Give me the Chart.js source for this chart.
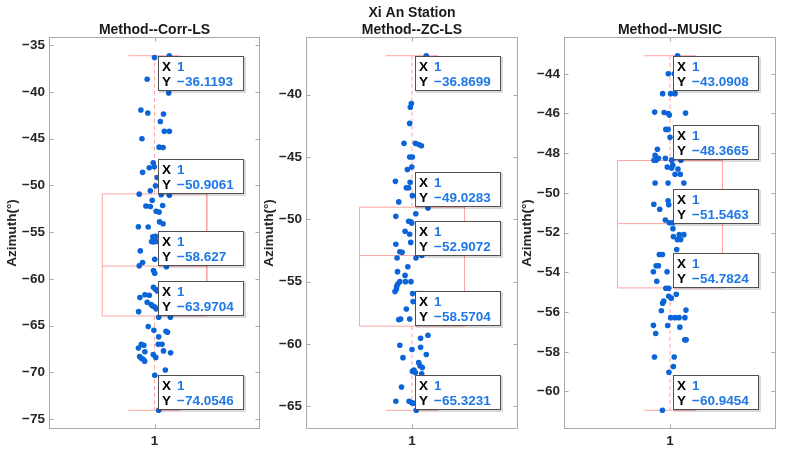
<!DOCTYPE html>
<html>
<head>
<meta charset="utf-8">
<script src="https://cdn.jsdelivr.net/npm/chart.js@4.4.1/dist/chart.umd.min.js"></script>
<style>
html, body { margin: 0; padding: 0; background: #fff; }
#fig { position: relative; width: 785px; height: 452px; overflow: hidden; }
#fig canvas { position: absolute; top: 0; }
</style>
</head>
<body>
<div id="fig">
  <canvas id="c1"></canvas>
  <canvas id="c2"></canvas>
  <canvas id="c3"></canvas>
</div>
<script>
// box stats per method: [upper whisker, Q3, median, Q1, lower whisker]
const CORR_STATS = [-36.1193, -50.9061, -58.627, -63.9704, -74.0546];
const ZC_STATS = [-36.8699, -49.0283, -52.9072, -58.5704, -65.3231];
const MUSIC_STATS = [-43.0908, -48.3665, -51.5463, -54.7824, -60.9454];

// azimuth samples and their horizontal jitter around x = 1
const CORR_Y = [-36.1193, -36.32, -38.64, -40.1, -41.93, -42.25, -42.36, -43.15, -44.2, -44.2,
  -45.0, -45.9, -45.95, -47.57, -48.1, -48.0, -48.6, -49.15, -50.04, -50.57,
  -50.93, -51.0, -51.05, -51.58, -52.2, -52.25, -52.15, -52.76, -52.85, -53.9,
  -54.1, -54.42, -54.45, -55.5, -55.45, -56.0, -56.05, -56.0, -56.4, -57.0,
  -57.9, -58.25, -58.6, -58.7, -59.1, -59.4, -60.9, -61.1, -61.3, -61.7,
  -61.75, -62.0, -62.5, -62.75, -62.9, -63.0, -63.2, -63.5, -64.1, -64.1,
  -65.1, -65.5, -65.6, -65.7, -66.2, -67.0, -67.0, -67.0, -67.1, -67.4,
  -67.7, -67.9, -67.8, -68.1, -68.3, -68.4, -68.5, -68.6, -68.8, -69.75,
  -70.3, -74.0546];
const CORR_JIT = [0.071, 0.000, -0.035, 0.068, -0.065, -0.032, 0.043, 0.028, 0.047, 0.071,
  -0.060, 0.022, 0.041, -0.006, -0.025, -0.001, -0.057, 0.013, 0.005, -0.020,
  -0.073, 0.032, 0.071, -0.011, -0.041, -0.020, 0.039, 0.008, 0.022, 0.024,
  0.041, -0.077, -0.030, -0.008, 0.005, -0.014, -0.005, 0.008, 0.044, -0.068,
  0.001, -0.057, -0.073, 0.057, -0.005, 0.001, -0.005, 0.005, 0.014, -0.046,
  -0.025, -0.070, -0.035, -0.016, -0.008, 0.001, 0.008, -0.076, 0.020, 0.076,
  -0.030, -0.003, 0.055, 0.062, 0.020, 0.018, 0.036, -0.063, -0.051, -0.077,
  0.043, 0.077, -0.046, -0.006, -0.071, 0.006, -0.063, -0.054, -0.047, 0.052,
  0.001, 0.020];

const ZC_Y = [-36.8699, -40.7, -41.0, -42.3, -43.9, -43.9, -44.0, -44.1, -45.0, -45.0,
  -45.8, -46.0, -46.95, -47.03, -47.46, -47.46, -48.1, -48.6, -49.1, -49.55,
  -49.76, -50.15, -50.2, -50.3, -50.96, -51.2, -51.85, -52.0, -52.6, -52.65,
  -52.9, -53.1, -53.1, -53.8, -54.2, -54.5, -55.0, -55.0, -55.0, -55.2,
  -55.4, -55.6, -55.8, -55.96, -55.96, -55.96, -56.6, -57.2, -58.05, -58.0,
  -58.0, -59.3, -59.55, -60.1, -60.45, -60.27, -60.85, -61.1, -61.5, -61.75,
  -61.9, -62.1, -62.2, -62.3, -62.4, -63.45, -64.6, -64.6, -64.7, -64.75,
  -65.3231];
const ZC_JIT = [0.068, -0.003, -0.008, -0.011, -0.038, 0.016, 0.032, 0.045, -0.011, 0.002,
  -0.001, -0.022, -0.079, -0.009, -0.027, -0.016, 0.002, -0.063, 0.076, 0.018,
  -0.077, -0.016, -0.006, -0.001, -0.033, -0.011, -0.006, -0.077, -0.058, -0.047,
  0.047, -0.071, 0.019, -0.020, -0.069, -0.033, -0.058, -0.031, -0.005, -0.068,
  -0.073, -0.074, -0.081, 0.003, 0.028, 0.047, 0.005, -0.027, -0.063, -0.054,
  -0.011, 0.076, 0.041, -0.058, 0.000, 0.041, 0.068, -0.043, 0.032, 0.038,
  0.049, 0.009, 0.002, 0.016, 0.046, -0.050, -0.077, -0.014, -0.003, 0.005,
  0.020];

const MUSIC_Y = [-43.0908, -44.0, -44.0, -45.0, -45.0, -45.0, -45.93, -45.95, -46.0, -46.08,
  -45.98, -46.8, -46.8, -47.2, -47.8, -48.1, -48.35, -48.35, -48.25, -48.26,
  -48.35, -48.35, -48.6, -48.7, -48.75, -48.8, -49.06, -49.06, -49.5, -49.5,
  -49.5, -50.4, -50.57, -50.82, -50.6, -51.36, -51.5, -51.5, -51.8, -52.2,
  -52.1, -52.1, -52.35, -52.35, -52.85, -53.1, -53.1, -53.67, -53.67, -53.97,
  -53.97, -54.45, -54.8, -54.8, -55.2, -55.3, -55.1, -55.45, -55.55, -55.93,
  -55.9, -56.28, -56.28, -56.28, -56.28, -56.67, -56.68, -56.76, -57.08, -57.4,
  -57.4, -58.26, -58.26, -58.74, -59.03, -60.9454];
const MUSIC_JIT = [0.036, -0.008, 0.020, -0.035, 0.003, 0.024, -0.073, -0.028, -0.008, -0.003,
  0.074, -0.020, -0.009, 0.000, -0.060, -0.071, -0.076, -0.066, -0.055, -0.022,
  0.008, 0.052, 0.013, -0.013, 0.008, 0.038, 0.024, 0.049, -0.071, -0.009,
  0.066, -0.009, -0.077, -0.049, -0.006, -0.022, -0.003, 0.013, 0.014, 0.016,
  0.044, 0.066, 0.051, 0.035, 0.032, -0.051, -0.036, -0.066, -0.055, -0.079,
  -0.014, -0.063, -0.020, -0.006, -0.006, 0.006, 0.030, -0.030, -0.035, -0.041,
  0.076, 0.003, 0.024, 0.043, 0.071, -0.079, -0.011, 0.047, -0.068, 0.070,
  0.077, -0.074, 0.020, 0.016, -0.005, -0.036];

const CORR_TICKS = [-75, -70, -65, -60, -55, -50, -45, -40, -35];
const ZC_TICKS = [-65, -60, -55, -50, -45, -40];
const MUSIC_TICKS = [-60, -58, -56, -54, -52, -50, -48, -46, -44];
const X_TICKS = [1];

const FONT = '"Liberation Sans", Arial, Helvetica, sans-serif';
const DOT_BLUE = '#0b64d8';
const TIP_BLUE = '#1f78e6';
const BOX_RED = '#ffa3a3';
const AXIS_GRAY = '#a9a9a9';

const panels = [
  {id: 'c1', left: 50, width: 210, title: ['Method--Corr-LS'], stats: CORR_STATS, ys: CORR_Y, jit: CORR_JIT, ticks: CORR_TICKS},
  {id: 'c2', left: 307, width: 211, title: ['Xi An Station', 'Method--ZC-LS'], stats: ZC_STATS, ys: ZC_Y, jit: ZC_JIT, ticks: ZC_TICKS},
  {id: 'c3', left: 565, width: 211, title: ['Method--MUSIC'], stats: MUSIC_STATS, ys: MUSIC_Y, jit: MUSIC_JIT, ticks: MUSIC_TICKS}
];

const AXIS_W = 50, PAD_R = 3, TOP = 38, BOTTOM_H = 24;

function fmtTip(v) {
  return String(parseFloat(v.toPrecision(6))).replace('-', '\u2212');
}

const matlabAxes = {
  id: 'matlabAxes',
  afterDatasetsDraw(chart, args, opts) {
    const {ctx, chartArea: a, scales: {x, y}} = chart;
    const cx = Math.round(x.getPixelForValue(1));
    const w = 86, h = 35;
    ctx.save();
    ctx.font = 'bold 13.5px ' + FONT;
    ctx.textBaseline = 'alphabetic';
    ctx.textAlign = 'left';
    opts.stats.forEach(v => {
      const py = Math.round(y.getPixelForValue(v));
      const left = cx + 3;
      const top = (py - h < a.top) ? py : py - h;
      ctx.fillStyle = 'rgba(0,0,0,0.15)';
      ctx.fillRect(left + 1, top + 1, w + 1, h + 1);
      ctx.fillStyle = '#fff';
      ctx.fillRect(left, top, w, h);
      ctx.strokeStyle = '#505050';
      ctx.lineWidth = 1;
      ctx.strokeRect(left + 0.5, top + 0.5, w - 1, h - 1);
      ctx.fillStyle = '#000';
      ctx.fillText('X', left + 4, top + 14.5);
      ctx.fillText('Y', left + 4, top + 29.5);
      ctx.fillStyle = TIP_BLUE;
      ctx.fillText('1', left + 19, top + 14.5);
      ctx.fillText(fmtTip(v), left + 19, top + 29.5);
    });
    ctx.restore();
  },
  afterDraw(chart, args, opts) {
    const {ctx, chartArea: a, scales: {x, y}} = chart;
    const L = a.left - 0.5, R = a.right + 0.5, T = a.top - 0.5, B = a.bottom + 0.5;
    ctx.save();
    ctx.strokeStyle = AXIS_GRAY;
    ctx.lineWidth = 1;
    ctx.strokeRect(L, T, R - L, B - T);
    ctx.beginPath();
    y.ticks.forEach(t => {
      const py = Math.round(y.getPixelForValue(t.value)) + 0.5;
      ctx.moveTo(L, py); ctx.lineTo(L + 4, py);
      ctx.moveTo(R, py); ctx.lineTo(R - 4, py);
    });
    x.ticks.forEach(t => {
      const px = Math.round(x.getPixelForValue(t.value)) + 0.5;
      ctx.moveTo(px, B); ctx.lineTo(px, B - 4);
      ctx.moveTo(px, T); ctx.lineTo(px, T + 4);
    });
    ctx.stroke();
    // titles
    ctx.fillStyle = '#1a1a1a';
    ctx.font = 'bold 14px ' + FONT;
    ctx.textAlign = 'center';
    ctx.textBaseline = 'middle';
    const mid = (a.left + a.right) / 2;
    const lines = opts.title;
    lines.forEach((s, i) => {
      ctx.fillText(s, mid, 30 - (lines.length - 1 - i) * 17);
    });
    ctx.restore();
  }
};

function seg(x1, y1, x2, y2) {
  return [{x: x1, y: y1}, {x: x2, y: y2}];
}

function lineSet(data, dashed) {
  return {
    type: 'scatter', data, showLine: true, pointRadius: 0, borderWidth: 1,
    borderColor: BOX_RED, borderDash: dashed ? [4, 3] : [], order: 2
  };
}

function makePanel(p) {
  const canvas = document.getElementById(p.id);
  const cw = AXIS_W + p.width + PAD_R;
  canvas.width = cw;
  canvas.height = 452;
  canvas.style.left = (p.left - AXIS_W) + 'px';
  canvas.style.width = cw + 'px';
  canvas.style.height = '452px';

  const [hi, q3, med, q1, lo] = p.stats;
  const span = hi - lo;
  const yMin = lo - 0.05 * span, yMax = hi + 0.05 * span;

  const points = p.ys.map((v, i) => ({x: 1 + p.jit[i], y: v}));
  const tickFont = {family: FONT, size: 13.5, weight: 'bold'};

  new Chart(canvas, {
    type: 'scatter',
    data: {
      datasets: [
        {data: points, pointRadius: 2.8, pointBackgroundColor: DOT_BLUE, pointBorderWidth: 0, order: 1},
        lineSet([{x: 0.75, y: q3}, {x: 1.25, y: q3}, {x: 1.25, y: q1}, {x: 0.75, y: q1}, {x: 0.75, y: q3}], false),
        lineSet(seg(0.75, med, 1.25, med), false),
        lineSet(seg(1, hi, 1, q3), true),
        lineSet(seg(1, q1, 1, lo), true),
        lineSet(seg(0.875, hi, 1.125, hi), false),
        lineSet(seg(0.875, lo, 1.125, lo), false)
      ]
    },
    options: {
      responsive: false,
      animation: false,
      devicePixelRatio: 1,
      layout: {padding: {top: TOP, right: PAD_R, left: 0, bottom: 0}},
      plugins: {
        legend: {display: false},
        tooltip: {enabled: false},
        matlabAxes: {stats: p.stats, title: p.title}
      },
      scales: {
        x: {
          type: 'linear', min: 0.5, max: 1.5,
          grid: {display: false, drawTicks: false},
          border: {display: false},
          afterBuildTicks: s => { s.ticks = X_TICKS.map(v => ({value: v})); },
          afterFit: s => { s.height = BOTTOM_H; },
          ticks: {padding: 5, color: '#262626', font: tickFont, callback: v => String(v)}
        },
        y: {
          type: 'linear', min: yMin, max: yMax,
          grid: {display: false, drawTicks: false},
          border: {display: false},
          afterBuildTicks: s => { s.ticks = p.ticks.map(v => ({value: v})); },
          afterFit: s => { s.width = AXIS_W; },
          ticks: {padding: 5, color: '#262626', font: tickFont, callback: v => String(v).replace('-', '\u2212')},
          title: {display: true, text: 'Azimuth(°)', color: '#262626', font: tickFont, padding: {top: 4, bottom: 0}}
        }
      }
    },
    plugins: [matlabAxes]
  });
}

panels.forEach(makePanel);
</script>
</body>
</html>
